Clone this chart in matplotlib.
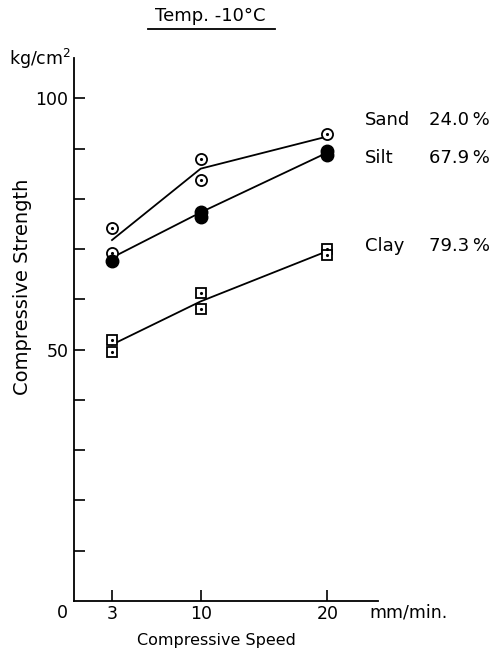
import matplotlib
matplotlib.use("Agg")
import matplotlib.pyplot as plt
from matplotlib.lines import Line2D

# data
speeds = [3, 10, 20]
sand_line = [71.8, 86.0, 92.4]
silt_line = [68.3, 77.3, 89.2]
clay_line = [51.0, 59.6, 69.6]

sand_x = [3, 3, 10, 10, 20]
sand_y = [74.2, 69.2, 88.0, 83.7, 92.8]
silt_x = [3, 10, 10, 20, 20]
silt_y = [67.7, 77.3, 76.4, 89.5, 88.8]
clay_x = [3, 3, 10, 10, 20, 20]
clay_y = [52.0, 49.5, 61.3, 58.1, 70.1, 68.9]

labels = ["Sand", "Silt", "Clay"]
percents = ["24.0\u2009%", "67.9\u2009%", "79.3\u2009%"]
label_y = [95.6, 88.2, 70.7]

xticks = [3, 10, 20]
yticks = list(range(10, 101, 10))

plt.rcParams['font.family'] = ['DejaVu Sans']
fig = plt.figure(figsize=(5, 6.51), dpi=100)
ax = fig.add_axes([0.148, 0.0768, 0.608, 0.834])
ax.set_xlim(0, 24)
ax.set_ylim(0, 108)
for s in ['top', 'right']:
    ax.spines[s].set_visible(False)
for s in ['left', 'bottom']:
    ax.spines[s].set_linewidth(1.3)

lw = 1.3
ax.plot(speeds, sand_line, color='black', lw=lw)
ax.plot(speeds, silt_line, color='black', lw=lw)
ax.plot(speeds, clay_line, color='black', lw=lw)

ax.plot(sand_x, sand_y, 'o', ms=8, mfc='white', mec='black', mew=1.3, ls='none', clip_on=False)
ax.plot(sand_x, sand_y, '.', ms=2.5, color='black', ls='none')
ax.plot(silt_x, silt_y, 'o', ms=9, color='black', ls='none')
ax.plot(clay_x, clay_y, 's', ms=7, mfc='white', mec='black', mew=1.3, ls='none')
ax.plot(clay_x, clay_y, '.', ms=2.5, color='black', ls='none')

ax.set_xticks(xticks)
ax.set_xticklabels([str(v) for v in xticks], fontsize=12.5)
ax.set_yticks(yticks)
ax.set_yticklabels(['50' if v == 50 else ('100' if v == 100 else '') for v in yticks], fontsize=12.5)
ax.tick_params(axis='both', direction='in', length=8, width=1.2, pad=4)
ax.tick_params(axis='x', pad=3)

ax.text(-0.9, -2.3, "0", fontsize=12.5, ha='center', va='center')
ax.text(23.3, -2.3, "mm/min.", fontsize=12.5, ha='left', va='center', clip_on=False)
ax.text(-0.2, 107.8, "kg/cm$^2$", fontsize=12.5, ha='right', va='center')

for lab, pc, yy in zip(labels, percents, label_y):
    ax.text(23.0, yy, lab, fontsize=13, ha='left', va='center')
    ax.text(28.0, yy, pc, fontsize=13, ha='left', va='center')

fig.text(0.046, 0.56, "Compressive Strength", rotation=90, fontsize=14, ha='center', va='center')
fig.text(0.432, 1 - 640/651, "Compressive Speed", fontsize=11.5, ha='center', va='center')

fig.text(0.42, 1 - 16/651, "Temp. -10°C", fontsize=13, ha='center', va='center')
fig.add_artist(Line2D([148/500, 275/500], [1 - 29/651, 1 - 29/651], color='black', lw=1.3))

fig.savefig("out.png", dpi=100)
